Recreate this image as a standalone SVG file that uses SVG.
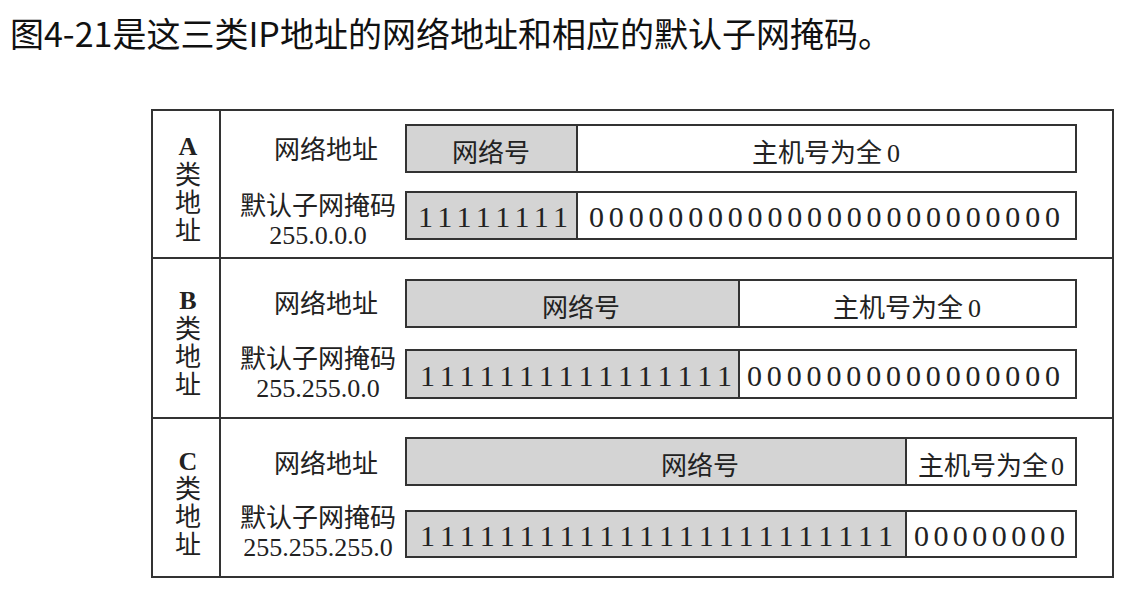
<svg xmlns="http://www.w3.org/2000/svg" width="1141" height="589" viewBox="0 0 1141 589">
<style>
.t{font-family:"Liberation Serif","Noto Sans CJK SC",serif;fill:#222}
.lab{font-size:26px;text-anchor:middle}
.num{font-size:26px;text-anchor:middle}
.cls{font-size:26px;text-anchor:middle}
.let{font-size:26px;text-anchor:middle;font-weight:bold}
.bits{font-size:30px}
.gray{fill:#d4d4d4;stroke:#333;stroke-width:2}
.white{fill:#fff;stroke:#333;stroke-width:2}
.frame{fill:none;stroke:#333;stroke-width:2}
</style>
<rect width="1141" height="589" fill="#fff"/>
<text x="10" y="47" font-family="'Noto Sans CJK SC','Microsoft YaHei',sans-serif" font-size="34" fill="#111">图4-21是这三类IP地址的网络地址和相应的默认子网掩码。</text>
<g id="table">
<rect class="frame" x="152" y="110" width="961" height="467"/>
<line class="frame" x1="220" y1="110" x2="220" y2="577"/>
<line class="frame" x1="152" y1="258" x2="1113" y2="258"/>
<line class="frame" x1="152" y1="418" x2="1113" y2="418"/>
</g>
<g id="classA">
<text class="t let" x="188" y="155">A</text>
<text class="t cls" x="188" y="184">类</text>
<text class="t cls" x="188" y="212">地</text>
<text class="t cls" x="188" y="240">址</text>
<text class="t lab" x="326" y="159">网络地址</text>
<text class="t lab" x="318" y="215">默认子网掩码</text>
<text class="t num" x="318" y="244">255.0.0.0</text>
<rect class="gray" x="406" y="125" width="171" height="47"/>
<rect class="white" x="577" y="125" width="499" height="47"/>
<text class="t lab" x="491" y="162">网络号</text>
<text class="t lab" x="826" y="162">主机号为全<tspan dx="5">0</tspan></text>
<rect class="gray" x="406" y="192" width="171" height="47"/>
<rect class="white" x="577" y="192" width="499" height="47"/>
<text class="t bits" x="418" y="227" textLength="150" lengthAdjust="spacing">11111111</text>
<text class="t bits" x="589" y="227" textLength="471" lengthAdjust="spacing">000000000000000000000000</text>
</g>
<g id="classB">
<text class="t let" x="188" y="309">B</text>
<text class="t cls" x="188" y="338">类</text>
<text class="t cls" x="188" y="366">地</text>
<text class="t cls" x="188" y="394">址</text>
<text class="t lab" x="326" y="313">网络地址</text>
<text class="t lab" x="318" y="368">默认子网掩码</text>
<text class="t num" x="318" y="397">255.255.0.0</text>
<rect class="gray" x="406" y="280" width="333" height="47"/>
<rect class="white" x="739" y="280" width="337" height="47"/>
<text class="t lab" x="581" y="317">网络号</text>
<text class="t lab" x="907" y="317">主机号为全<tspan dx="5">0</tspan></text>
<rect class="gray" x="406" y="350" width="333" height="48"/>
<rect class="white" x="739" y="350" width="337" height="48"/>
<text class="t bits" x="420" y="386" textLength="312" lengthAdjust="spacing">1111111111111111</text>
<text class="t bits" x="747" y="386" textLength="313" lengthAdjust="spacing">0000000000000000</text>
</g>
<g id="classC">
<text class="t let" x="188" y="470">C</text>
<text class="t cls" x="188" y="498">类</text>
<text class="t cls" x="188" y="526">地</text>
<text class="t cls" x="188" y="554">址</text>
<text class="t lab" x="326" y="473">网络地址</text>
<text class="t lab" x="318" y="527">默认子网掩码</text>
<text class="t num" x="318" y="556">255.255.255.0</text>
<rect class="gray" x="406" y="438" width="500" height="47"/>
<rect class="white" x="906" y="438" width="170" height="47"/>
<text class="t lab" x="700" y="475">网络号</text>
<text class="t lab" x="991" y="475">主机号为全<tspan dx="3">0</tspan></text>
<rect class="gray" x="406" y="511" width="500" height="46"/>
<rect class="white" x="906" y="511" width="170" height="46"/>
<text class="t bits" x="420" y="546" textLength="473" lengthAdjust="spacing">111111111111111111111111</text>
<text class="t bits" x="914" y="546" textLength="151" lengthAdjust="spacing">00000000</text>
</g>
</svg>
